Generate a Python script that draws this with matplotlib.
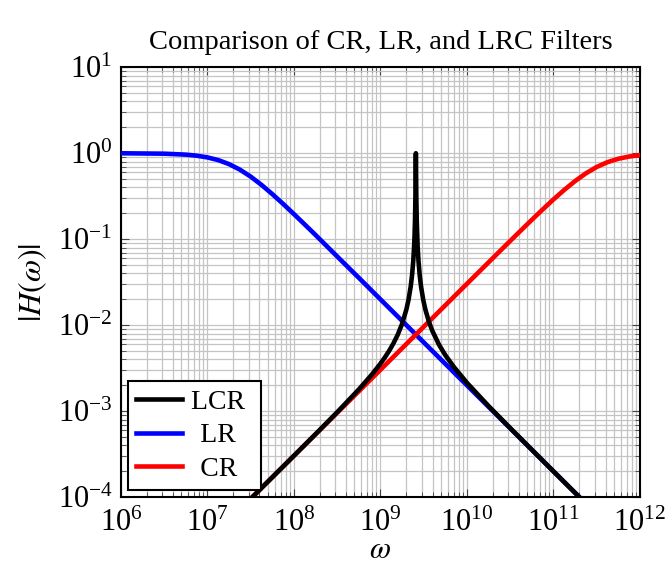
import matplotlib
matplotlib.use('Agg')
import matplotlib.pyplot as plt
from matplotlib.ticker import LogLocator, NullFormatter

plt.rcParams['font.family'] = ['Liberation Serif', 'DejaVu Serif']
plt.rcParams['mathtext.fontset'] = 'stix'

# frequencies (rad/s) and magnitudes
w_lr = [1e6, 3.16e6, 5.62e6, 7.5e6, 1e7, 1.334e7, 1.778e7, 2.371e7, 3.16e7,
        4.217e7, 5.62e7, 7.5e7, 1e8, 1.334e8, 1.778e8, 2.371e8, 3.16e8,
        5.623e8, 1e9, 1e10, 1e11, 1e12]
h_lr = [0.9988, 0.988, 0.963, 0.9364, 0.894, 0.832, 0.747, 0.6447, 0.535,
        0.4285, 0.335, 0.2577, 0.196, 0.1483, 0.112, 0.084, 0.0631,
        0.0356, 0.02, 0.002, 2e-4, 2e-5]

w_cr = [1e7, 1e8, 1e9, 1e10, 1.334e10, 1.778e10, 2.371e10, 3.16e10,
        4.217e10, 5.62e10, 7.5e10, 1e11, 1.334e11, 1.778e11, 2.371e11,
        3.16e11, 4.217e11, 5.62e11, 7.5e11, 1e12]
h_cr = [3.03e-5, 3.03e-4, 3.03e-3, 0.0303, 0.0404, 0.0538, 0.0717, 0.0954,
        0.1268, 0.168, 0.2216, 0.290, 0.3747, 0.474, 0.5836,
        0.692, 0.7875, 0.862, 0.9153, 0.950]

w_lcr = [1e7, 1e8, 1.778e8, 3.162e8, 5.623e8, 7.943e8, 1e9, 1.122e9, 1.259e9,
         1.413e9, 1.585e9, 1.778e9, 1.995e9, 2.113e9, 2.239e9, 2.317e9,
         2.399e9, 2.455e9, 2.483e9, 2.512e9, 2.541e9, 2.555e9, 2.569e9,
         2.582e9, 2.600e9, 2.630e9, 2.692e9, 2.754e9, 2.851e9, 2.951e9,
         3.126e9, 3.311e9, 3.631e9, 3.981e9, 4.732e9, 5.623e9, 7.079e9,
         1e10, 1.778e10, 3.162e10, 1e11, 1e12]
h_lcr = [3.03e-5, 3.035e-4, 5.41e-4, 9.73e-4, 1.79e-3, 2.66e-3, 3.57e-3,
         4.20e-3, 5.02e-3, 6.14e-3, 7.75e-3, 0.01034, 0.01524, 0.0198,
         0.02823, 0.0376, 0.0567, 0.0853, 0.1134, 0.171, 0.337, 0.580, 1.0,
         0.611, 0.307, 0.163, 0.0829, 0.0558, 0.0373, 0.028,
         0.0197, 0.01517, 0.01103, 8.6e-3, 5.99e-3, 4.49e-3, 3.26e-3,
         2.14e-3, 1.149e-3, 6.37e-4, 2.0e-4, 2e-5]

labels = ['LCR\u2005', '\u2004LR\u2005', '\u2004CR\u2005']
x_ticks = [1e6, 1e7, 1e8, 1e9, 1e10, 1e11, 1e12]
y_ticks = [1e-4, 1e-3, 1e-2, 1e-1, 1e0, 1e1]

fig = plt.figure(figsize=(6.68, 5.65), dpi=100)
ax = fig.add_axes([0.181, 0.120, 0.777, 0.761])

lw = 3.3
ax.loglog(w_lcr, h_lcr, color='black', lw=lw, label=labels[0], zorder=4)
ax.loglog(w_lr, h_lr, color='blue', lw=lw, label=labels[1], zorder=3)
ax.loglog(w_cr, h_cr, color='red', lw=lw, label=labels[2], zorder=3)

ax.set_xlim(1e6, 1e12)
ax.set_ylim(1e-4, 1e1)

ax.set_xticks(x_ticks)
ax.set_yticks(y_ticks)
ax.xaxis.set_minor_locator(LogLocator(base=10, subs=range(2, 10), numticks=100))
ax.yaxis.set_minor_locator(LogLocator(base=10, subs=range(2, 10), numticks=100))
ax.xaxis.set_minor_formatter(NullFormatter())
ax.yaxis.set_minor_formatter(NullFormatter())

ax.grid(True, which='both', color='#c4c4c4', lw=0.9)
ax.set_axisbelow(True)
ax.tick_params(which='both', direction='in', top=True, right=True,
               labelsize=22, color='#444444')
ax.tick_params(which='major', length=6, width=0.8, pad=6)
ax.tick_params(axis='x', which='major', pad=8)
ax.tick_params(which='minor', length=3.5, width=0.6)
for s in ax.spines.values():
    s.set_linewidth(1.5)

ax.set_title('Comparison of CR, LR, and LRC Filters', fontsize=20.5, pad=13)
ax.set_xlabel(r'$\omega$', fontsize=22, labelpad=-1)
ax.set_ylabel(r'$|H(\omega)|$', fontsize=23, labelpad=6)

leg = ax.legend(loc='lower left', fontsize=20, fancybox=False, framealpha=1,
                edgecolor='black', handlelength=1.65, borderpad=0.3,
                labelspacing=0.29, handletextpad=0.33, borderaxespad=0,
                bbox_to_anchor=(0.0135, 0.016))
leg.get_frame().set_linewidth(1.5)

fig.savefig('out.png', dpi=100)
